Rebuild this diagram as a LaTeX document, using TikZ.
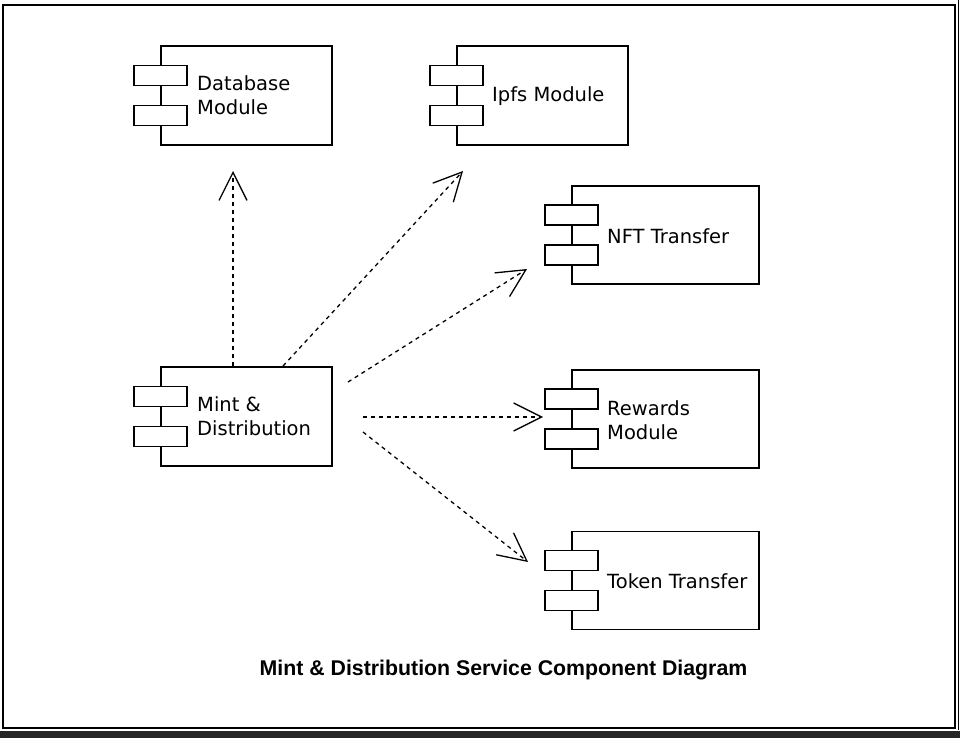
\documentclass[tikz,border=0pt]{standalone}
\usepackage{fontspec}
\setmainfont{DejaVu Sans}
\newfontfamily\titlefont{Liberation Sans}
\usetikzlibrary{arrows.meta,positioning}

\tikzset{
  comp/.style={draw, line width=1.3pt, fill=white, inner sep=0pt, minimum width=171pt, minimum height=99pt},
  wcomp/.style={comp, minimum width=187pt, minimum height=98pt},
  port/.style={draw, line width=1.3pt, fill=white, inner sep=0pt, minimum width=53pt, minimum height=20pt},
  lbl/.style={anchor=west, align=left, inner sep=0pt, font=\fontsize{19.5}{24}\selectfont},
  dep/.style={line width=1.3pt, dash pattern=on 4pt off 4pt, -{Straight Barb[length=28pt,width=28pt,line width=1.3pt]}}
}

\begin{document}
\begin{tikzpicture}[x=1pt,y=-1pt]
\useasboundingbox (0,0) rectangle (960,738);
\fill[white] (0,0) rectangle (960,738);
% frame
\draw[line width=1.5pt] (3,5) rectangle (955,728);
\draw[line width=1pt] (958,0) -- (958,730);
\fill[black!85] (0,731) rectangle (960,738);

% components
\node[comp] (db) at (246.5,95.5) {};
\node[port] at ([yshift=20pt]db.west) {};
\node[port] at ([yshift=-20pt]db.west) {};
\node[lbl] at (197,95) {Database\\Module};

\node[comp] (ipfs) at (542.5,95.5) {};
\node[port] at ([yshift=20pt]ipfs.west) {};
\node[port] at ([yshift=-20pt]ipfs.west) {};
\node[lbl] at (492,96) {Ipfs Module};

\node[wcomp] (nft) at (665.5,235) {};
\node[port] at ([yshift=20pt]nft.west) {};
\node[port] at ([yshift=-20pt]nft.west) {};
\node[lbl] at (607,236) {NFT Transfer};

\node[wcomp] (rew) at (665.5,419) {};
\node[port] at ([yshift=20pt]rew.west) {};
\node[port] at ([yshift=-20pt]rew.west) {};
\node[lbl] at (607,420) {Rewards\\Module};

\node[wcomp] (tok) at (665.5,580.5) {};
\node[port] at ([yshift=20pt]tok.west) {};
\node[port] at ([yshift=-20pt]tok.west) {};
\node[lbl] at (607,581) {Token Transfer};

\node[comp] (mint) at (246.5,416.5) {};
\node[port] at ([yshift=20pt]mint.west) {};
\node[port] at ([yshift=-20pt]mint.west) {};
\node[lbl] at (197,416) {Mint \&\\Distribution};

% dependencies
\coordinate (s1) at (233,366);
\coordinate (t1) at (233,171);
\coordinate (s2) at (283,366);
\coordinate (t2) at (463,171);
\coordinate (s3) at (348,382);
\coordinate (t3) at (527,269);
\coordinate (s4) at (363,417);
\coordinate (t4) at (543,417);
\coordinate (s5) at (363,432);
\coordinate (t5) at (528,562);
\draw[dep] (s1) -- (t1);
\draw[dep] (s2) -- (t2);
\draw[dep] (s3) -- (t3);
\draw[dep] (s4) -- (t4);
\draw[dep] (s5) -- (t5);

\node[font=\titlefont\bfseries\fontsize{21.3}{25}\selectfont] (title) at (503.5,670) {Mint \& Distribution Service Component Diagram};
\end{tikzpicture}
\end{document}
